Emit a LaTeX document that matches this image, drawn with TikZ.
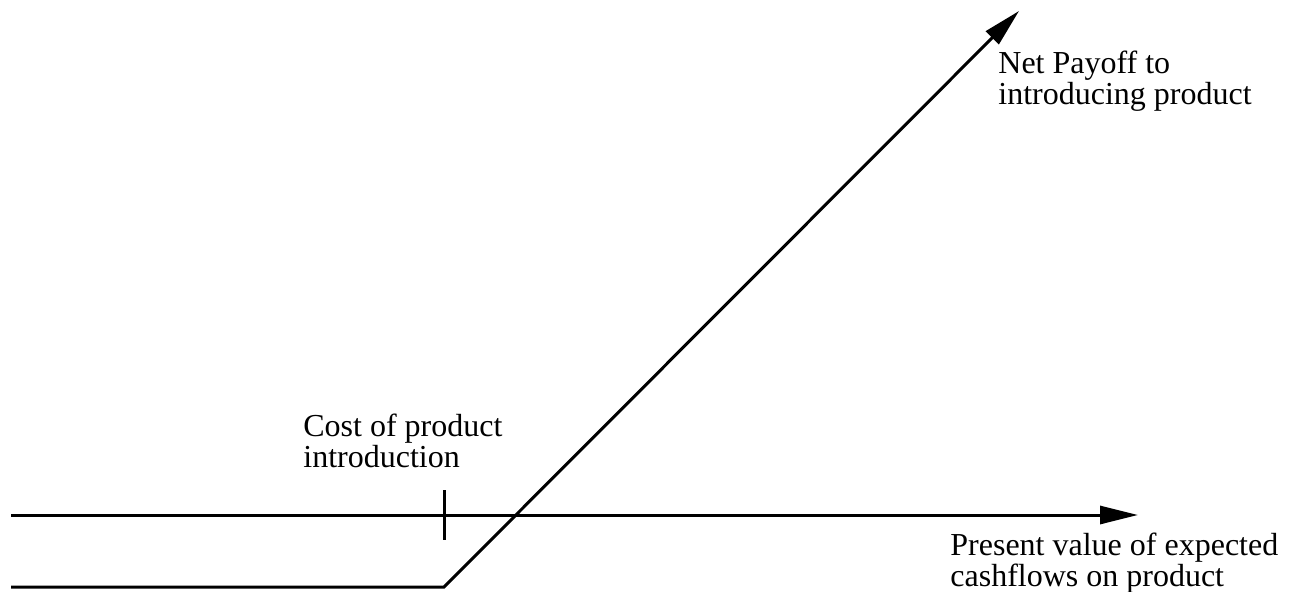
\documentclass[tikz,border=0pt]{standalone}
\usepackage{fontspec}
\setmainfont{Liberation Serif}
\usetikzlibrary{arrows.meta}

\tikzset{
    payline/.style={line width=1.5pt, line join=miter},
    payarrow/.style={payline, -{Triangle[length=19pt,width=9pt]}},
    axistext/.style={anchor=base west, inner sep=0pt, align=left,
        font=\fontsize{16}{15.5}\selectfont},
}

\begin{document}
\begin{tikzpicture}[x=0.5pt, y=-0.5pt]
    \useasboundingbox (0,0) rectangle (1294,592);

    % axis and points on it
    \coordinate (axisStart) at (11,515);
    \coordinate (axisEnd) at (1138,515);
    \coordinate (costTop) at (444,490);
    \coordinate (costBot) at (444,540);
    \coordinate (payStart) at (11,587);
    \coordinate (kink) at (444,587);
    \coordinate (payEnd) at (1019,11);

    \draw[payarrow] (axisStart) -- (axisEnd);
    \draw[payline] (costTop) -- (costBot);

    % net payoff
    \draw[payarrow] (payStart) -- (kink) -- (payEnd);

    % labels (base anchor sits on the last line)
    \node[axistext] (payoff) at (998,105) {Net Payoff to\\introducing product};
    \node[axistext] (cost) at (303,467) {Cost of product\\introduction};
    \node[axistext] (pv) at (950,586) {Present value of expected\\cashflows on product};
\end{tikzpicture}
\end{document}
